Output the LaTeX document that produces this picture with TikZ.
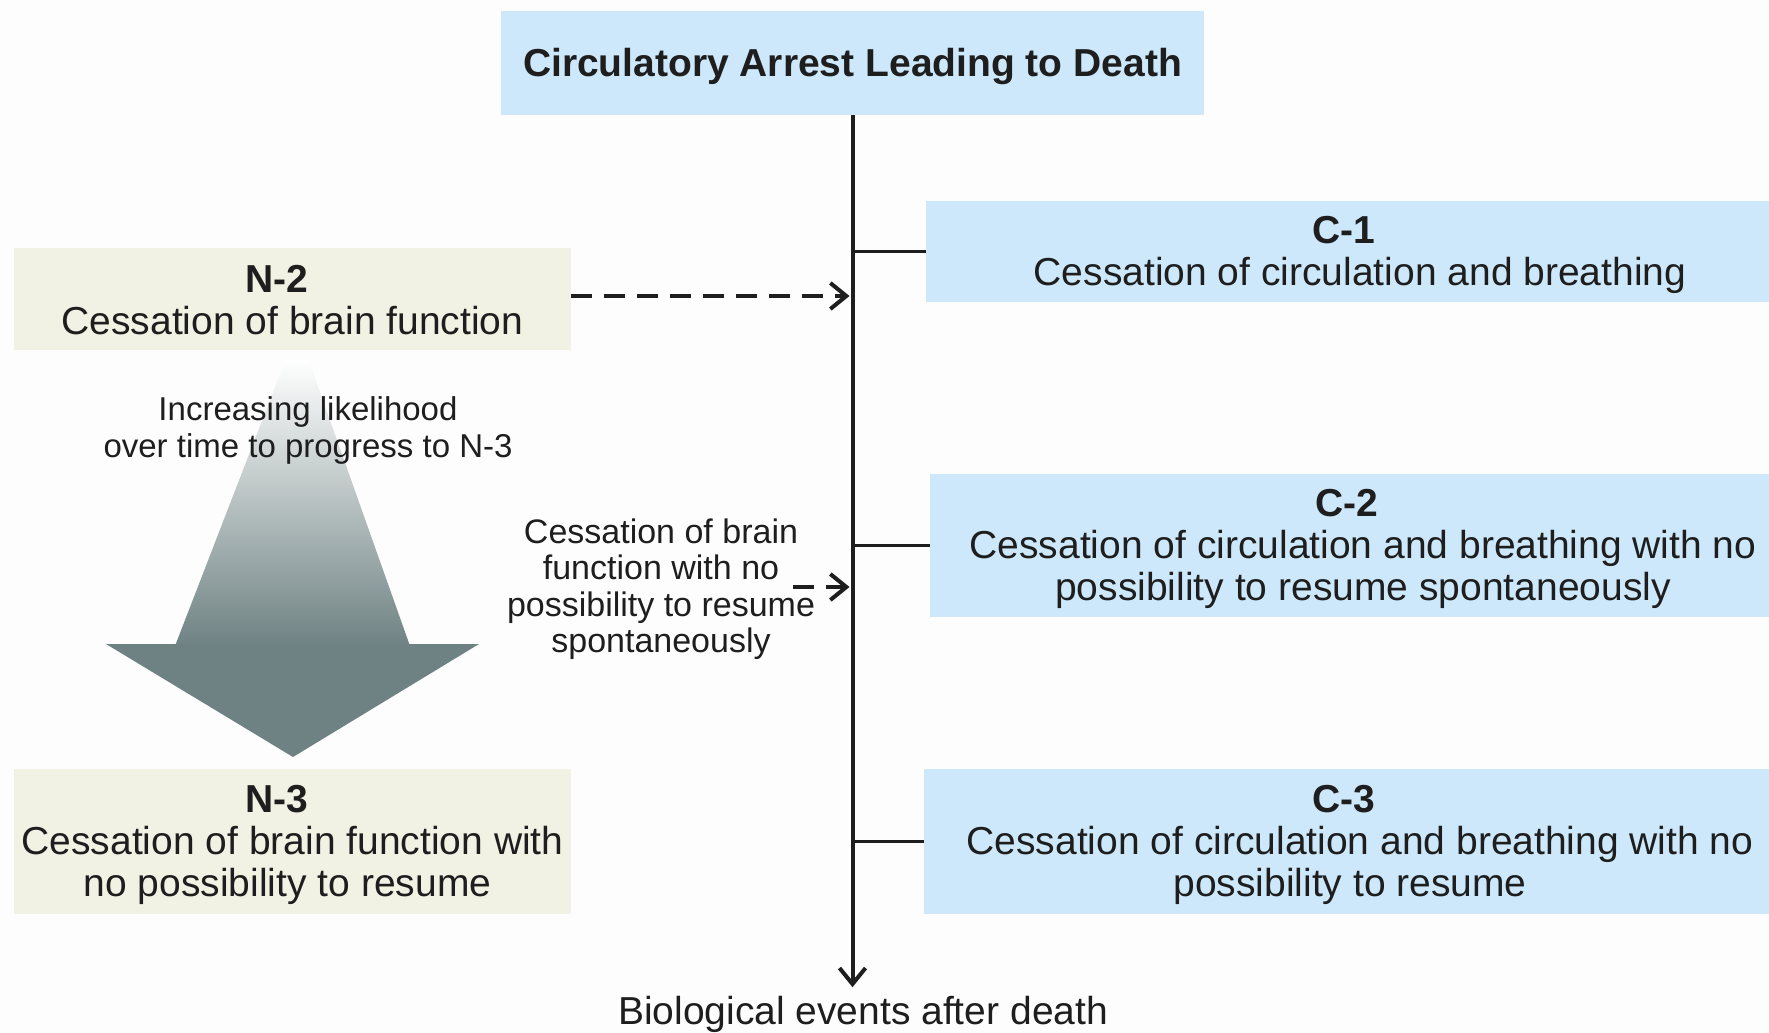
\documentclass[tikz,border=0pt]{standalone}
\usepackage{fontspec}
\setmainfont{Liberation Sans}
\usetikzlibrary{arrows.meta}
\definecolor{boxblue}{HTML}{CDE8FA}
\definecolor{boxbeige}{HTML}{F1F1E4}
\definecolor{arrowgray}{HTML}{6F8283}
\definecolor{bgcol}{HTML}{FDFDFD}
\definecolor{inkcol}{HTML}{1E1E1E}
\newcommand\bigtxt{\fontsize{39}{42}\selectfont}
\newcommand\midtxt{\fontsize{34}{36.5}\selectfont}
\newcommand\hdr[1]{\textbf{#1}\hspace*{32pt}}
\begin{document}
\begin{tikzpicture}[x=1pt,y=-1pt,
  txt/.style={text=inkcol, align=center, inner sep=0pt},
  boxtxt/.style={txt, font=\bigtxt},
  bluebox/.style={fill=boxblue, inner sep=0pt},
  beigebox/.style={fill=boxbeige, inner sep=0pt},
  spine/.style={draw=inkcol, line width=4pt},
  tick/.style={draw=inkcol, line width=3.5pt},
  tipbarb/.style={-{Straight Barb[length=16pt,width=26pt]}},
  dasharrow/.style={draw=inkcol, line width=4pt, dash pattern=on 21pt off 12pt, tipbarb, shorten >=3pt}
]
\useasboundingbox (0,0) rectangle (1769,1033);
\fill[bgcol] (0,0) rectangle (1769,1033);

% big gradient arrow
\shade[top color=white, bottom color=arrowgray] (285.5,360) -- (308.6,360) -- (410,646) -- (175,646) -- cycle;
\fill[arrowgray] (106,644) -- (479,644) -- (293,757) -- cycle;

% boxes
\node[bluebox, minimum width=703pt, minimum height=104pt] (top) at (852.5,63) {};
\node[bluebox, minimum width=864pt, minimum height=101pt] (c1) at (1358,251.5) {};
\node[bluebox, minimum width=860pt, minimum height=143pt] (c2) at (1360,545.5) {};
\node[bluebox, minimum width=866pt, minimum height=145pt] (c3) at (1357,841.5) {};
\node[beigebox, minimum width=557pt, minimum height=102pt] (n2) at (292.5,299) {};
\node[beigebox, minimum width=557pt, minimum height=145pt] (n3) at (292.5,841.5) {};

% box texts
\node[boxtxt] (topt) at ([yshift=-4pt]top.center) {\textbf{Circulatory Arrest Leading to Death}};
\node[boxtxt] (c1t) at ([yshift=-3pt,xshift=2pt]c1.center) {\hdr{C-1}\\Cessation of circulation and breathing};
\node[boxtxt] (c2t) at ([yshift=-3.5pt,xshift=3pt]c2.center) {\hdr{C-2}\\Cessation of circulation and breathing with no\\possibility to resume spontaneously};
\node[boxtxt] (c3t) at ([yshift=-3.5pt,xshift=3pt]c3.center) {\hdr{C-3}\\Cessation of circulation and breathing with no\\possibility to resume\hspace*{20pt}};
\node[boxtxt] (n2t) at ([yshift=-1pt]n2.center) {\hdr{N-2}\\Cessation of brain function};
\node[boxtxt] (n3t) at ([yshift=-3.5pt]n3.center) {\hdr{N-3}\\Cessation of brain function with\\no possibility to resume\hspace*{10pt}};

% free texts
\node[txt, font={\fontsize{33}{37}\selectfont}] (likely) at (308,430) {Increasing likelihood\\over time to progress to N-3};
\node[txt, font=\midtxt] (mid) at (661,589) {Cessation of brain\\function with no\\possibility to resume\\spontaneously};
\node[txt, font=\bigtxt] (bio) at (863,1014) {Biological events after death};

% spine
\path (top.south) ++(0,872) coordinate (sBot);
\draw[spine, tipbarb] (top.south) -- (sBot);

% ticks
\draw[tick] (c1.west) -- (c1.west -| top.south);
\draw[tick] (c2.west) -- (c2.west -| top.south);
\draw[tick] (c3.west) -- (c3.west -| top.south);

% dashed arrows
\coordinate (n2e) at ([yshift=3pt]n2.east);
\draw[dasharrow] (n2e) -- (n2e -| top.south);
\coordinate (m0) at (793,587);
\draw[dasharrow] (m0) -- (m0 -| top.south);
\end{tikzpicture}
\end{document}
